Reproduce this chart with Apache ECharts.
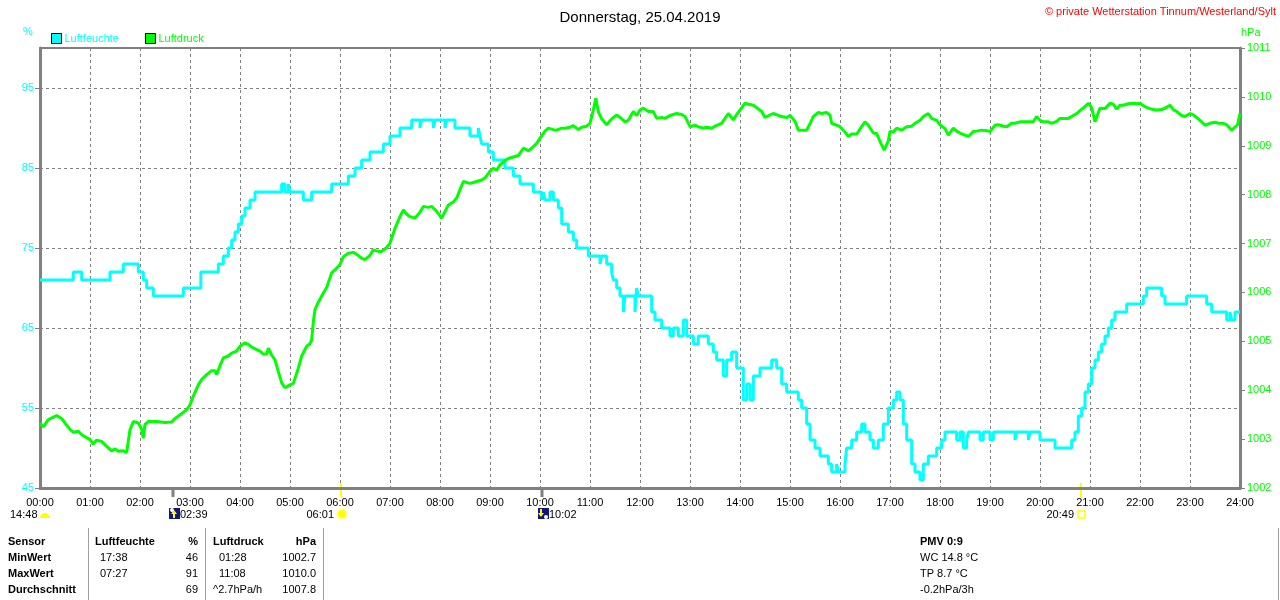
<!DOCTYPE html>
<html>
<head>
<meta charset="utf-8">
<script src="https://cdn.jsdelivr.net/npm/echarts@6/dist/echarts.min.js"></script>
<style>
  html, body { margin: 0; padding: 0; background: #fff; }
  #chart { width: 1280px; height: 600px; }
</style>
</head>
<body>
<div id="chart"></div>
<script>
// Luftfeuchte (%), Stufenwerte: Wert gilt ab Zeitpunkt
const humTimes = ['00:00','00:40','00:50','01:24','01:40','01:58','02:04','02:08','02:16','02:52','03:13','03:34','03:40','03:46','03:50','03:54','03:58','04:02','04:06','04:12','04:18','04:50','04:54','04:58','05:00','05:16','05:26','05:50','06:10','06:18','06:26','06:36','06:52','07:00','07:12','07:26','07:36','07:38','07:52','07:54','08:06','08:08','08:18','08:36','08:46','08:48','08:50','08:58','09:04','09:18','09:28','09:36','09:52','10:02','10:04','10:06','10:12','10:16','10:22','10:26','10:34','10:40','10:44','10:58','11:12','11:14','11:20','11:26','11:28','11:32','11:36','11:40','11:42','11:54','11:56','11:58','12:14','12:18','12:26','12:36','12:40','12:46','12:52','12:56','13:04','13:10','13:22','13:28','13:32','13:40','13:44','13:50','13:56','14:04','14:08','14:12','14:16','14:24','14:38','14:44','14:50','14:56','15:10','15:14','15:20','15:24','15:30','15:36','15:46','15:50','15:56','15:58','16:06','16:08','16:14','16:20','16:26','16:30','16:36','16:40','16:46','16:52','16:58','17:04','17:08','17:12','17:16','17:20','17:26','17:30','17:36','17:40','17:46','17:56','18:02','18:06','18:20','18:24','18:28','18:32','18:34','18:48','18:52','19:00','19:04','19:30','19:32','19:46','19:48','20:00','20:18','20:38','20:42','20:46','20:50','20:54','20:58','21:02','21:06','21:10','21:14','21:18','21:22','21:26','21:30','21:44','22:04','22:08','22:26','22:30','22:56','23:20','23:26','23:44','23:48','23:50','23:54','24:00'];
const humValues = [71,72,71,72,73,72,71,70,69,70,72,73,74,75,76,77,78,79,80,81,82,83,82,83,82,81,82,83,84,85,86,87,88,89,90,91,90,91,90,91,90,91,90,89,90,89,88,87,86,85,84,83,82,81,82,81,82,81,80,78,77,76,75,74,73,74,73,72,71,70,69,67,69,67,70,69,67,66,65,64,65,64,66,64,63,64,63,62,61,59,61,62,60,56,58,56,59,60,61,60,58,57,56,55,53,51,50,49,48,47,48,47,48,50,51,52,53,52,51,50,51,53,55,56,57,56,53,51,48,47,46,48,49,50,51,52,51,52,50,51,52,51,52,51,52,51,52,51,52,51,50,51,52,54,55,57,58,60,61,62,63,64,65,66,67,68,69,70,69,68,69,68,67,66,67,66,67,67];

// Luftdruck (hPa)
const presTimes = ['00:00','00:04','00:10','00:20','00:26','00:30','00:36','00:40','00:46','00:50','01:00','01:04','01:08','01:14','01:20','01:26','01:30','01:34','01:40','01:44','01:48','01:52','01:58','02:02','02:04','02:06','02:10','02:20','02:30','02:38','02:42','02:50','02:56','03:00','03:04','03:10','03:14','03:20','03:26','03:30','03:32','03:36','03:40','03:46','03:50','03:56','04:00','04:06','04:10','04:14','04:20','04:24','04:28','04:32','04:34','04:38','04:42','04:46','04:50','04:54','05:00','05:04','05:10','05:14','05:20','05:24','05:26','05:28','05:30','05:34','05:40','05:44','05:50','05:54','06:00','06:04','06:10','06:16','06:20','06:26','06:30','06:36','06:40','06:46','06:50','06:56','07:00','07:06','07:12','07:16','07:20','07:24','07:30','07:36','07:40','07:46','07:50','07:56','08:02','08:06','08:10','08:16','08:20','08:24','08:28','08:32','08:36','08:40','08:44','08:50','08:54','09:00','09:04','09:08','09:12','09:18','09:22','09:30','09:34','09:40','09:46','09:50','09:56','10:00','10:06','10:10','10:16','10:20','10:26','10:30','10:36','10:40','10:46','10:50','10:56','11:00','11:04','11:07','11:10','11:14','11:20','11:26','11:32','11:36','11:42','11:46','11:52','11:56','12:00','12:04','12:10','12:16','12:20','12:26','12:30','12:36','12:40','12:44','12:50','12:54','13:00','13:06','13:10','13:16','13:20','13:26','13:30','13:38','13:46','13:52','13:56','14:00','14:06','14:10','14:16','14:20','14:26','14:30','14:32','14:40','14:46','14:50','14:56','15:00','15:06','15:10','15:16','15:20','15:24','15:28','15:34','15:38','15:44','15:48','15:50','15:56','16:00','16:06','16:10','16:14','16:20','16:26','16:30','16:34','16:40','16:44','16:48','16:53','16:58','17:00','17:04','17:08','17:14','17:20','17:26','17:30','17:36','17:40','17:46','17:50','17:56','18:00','18:06','18:10','18:16','18:20','18:24','18:30','18:34','18:40','18:44','18:50','18:56','19:00','19:06','19:10','19:16','19:20','19:26','19:30','19:36','19:46','19:52','19:56','20:00','20:04','20:10','20:14','20:20','20:24','20:30','20:34','20:40','20:44','20:48','20:52','20:58','21:02','21:06','21:10','21:12','21:18','21:24','21:28','21:32','21:36','21:40','21:46','21:52','21:56','22:00','22:06','22:10','22:16','22:20','22:26','22:30','22:36','22:40','22:44','22:50','22:54','23:00','23:04','23:08','23:14','23:18','23:24','23:30','23:34','23:40','23:44','23:50','23:54','23:57','24:00'];
const presValues = [1003.33,1003.25,1003.40,1003.48,1003.42,1003.33,1003.20,1003.14,1003.16,1003.09,1002.99,1002.90,1002.98,1002.95,1002.85,1002.76,1002.80,1002.75,1002.76,1002.73,1003.19,1003.36,1003.33,1003.20,1003.02,1003.30,1003.36,1003.36,1003.34,1003.35,1003.42,1003.52,1003.60,1003.70,1003.88,1004.11,1004.22,1004.32,1004.40,1004.40,1004.32,1004.50,1004.66,1004.70,1004.76,1004.80,1004.90,1004.97,1004.94,1004.88,1004.83,1004.80,1004.74,1004.74,1004.86,1004.72,1004.62,1004.38,1004.15,1004.05,1004.11,1004.14,1004.45,1004.70,1004.90,1004.95,1005.03,1005.40,1005.65,1005.80,1005.99,1006.10,1006.40,1006.46,1006.57,1006.73,1006.80,1006.82,1006.78,1006.70,1006.67,1006.76,1006.87,1006.84,1006.84,1006.92,1007.01,1007.31,1007.55,1007.69,1007.60,1007.55,1007.52,1007.64,1007.76,1007.74,1007.76,1007.66,1007.52,1007.65,1007.79,1007.85,1007.93,1008.10,1008.27,1008.25,1008.23,1008.25,1008.27,1008.30,1008.34,1008.48,1008.54,1008.50,1008.61,1008.70,1008.74,1008.78,1008.80,1008.95,1008.90,1008.95,1009.05,1009.15,1009.30,1009.36,1009.33,1009.32,1009.36,1009.36,1009.38,1009.41,1009.33,1009.38,1009.40,1009.46,1009.73,1009.97,1009.70,1009.55,1009.43,1009.55,1009.63,1009.58,1009.49,1009.52,1009.70,1009.62,1009.73,1009.77,1009.70,1009.70,1009.56,1009.58,1009.56,1009.62,1009.64,1009.66,1009.64,1009.60,1009.39,1009.42,1009.39,1009.36,1009.38,1009.36,1009.40,1009.46,1009.66,1009.53,1009.64,1009.73,1009.87,1009.85,1009.83,1009.78,1009.70,1009.58,1009.60,1009.66,1009.62,1009.60,1009.58,1009.62,1009.50,1009.32,1009.32,1009.32,1009.45,1009.60,1009.68,1009.66,1009.68,1009.63,1009.46,1009.42,1009.39,1009.28,1009.19,1009.24,1009.24,1009.39,1009.49,1009.42,1009.26,1009.25,1009.09,1008.91,1009.10,1009.29,1009.28,1009.36,1009.32,1009.39,1009.40,1009.46,1009.52,1009.60,1009.66,1009.56,1009.52,1009.43,1009.35,1009.22,1009.36,1009.30,1009.26,1009.22,1009.19,1009.29,1009.30,1009.32,1009.31,1009.29,1009.42,1009.43,1009.40,1009.39,1009.46,1009.46,1009.49,1009.49,1009.49,1009.60,1009.52,1009.49,1009.49,1009.46,1009.50,1009.56,1009.56,1009.56,1009.62,1009.66,1009.72,1009.77,1009.87,1009.78,1009.49,1009.68,1009.77,1009.76,1009.87,1009.85,1009.75,1009.83,1009.83,1009.86,1009.87,1009.86,1009.87,1009.80,1009.77,1009.74,1009.73,1009.74,1009.77,1009.83,1009.74,1009.70,1009.62,1009.60,1009.66,1009.63,1009.58,1009.49,1009.42,1009.46,1009.48,1009.46,1009.46,1009.43,1009.32,1009.38,1009.43,1009.66];

// Sonne / Mond Ereignisse
const eventTimes = ['02:39','06:01','10:02','20:49'];
const eventKinds = ['moonrise','sunrise','moonset','sunset'];

// Tabelle unten
const tableHead = ['Sensor','Luftfeuchte','%','Luftdruck','hPa'];
const rowNames = ['MinWert','MaxWert','Durchschnitt'];
const humStatTimes = ['17:38','07:27',''];
const humStat = ['46','91','69'];
const presStatTimes = [' 01:28',' 11:08','^2.7hPa/h'];
const presStat = ['1002.7','1010.0','1007.8'];
const extraLines = ['PMV 0:9','WC 14.8 °C','TP 8.7 °C','-0.2hPa/3h'];

const FONT = '"Liberation Sans", Arial, sans-serif';
const toMin = s => { const p = s.split(':'); return (+p[0]) * 60 + (+p[1]); };
const pad = n => (n < 10 ? '0' : '') + n;

let chart = echarts.init(document.getElementById('chart'));

let option = {
    animation: false,
    backgroundColor: '#fff',
    textStyle: { fontFamily: FONT },
    title: {
        text: 'Donnerstag, 25.04.2019',
        left: 'center',
        top: 5,
        textStyle: { fontSize: 15, fontWeight: 'normal', color: '#000', fontFamily: FONT }
    },
    legend: {
        left: 46,
        top: 28,
        itemWidth: 10,
        itemHeight: 10,
        itemGap: 26,
        icon: 'rect',
        itemStyle: { borderColor: '#000', borderWidth: 1 },
        textStyle: { fontSize: 11, fontFamily: FONT, padding: [0, 0, 0, -2] },
        data: [
            { name: 'Luftfeuchte', textStyle: { color: '#00ffff' } },
            { name: 'Luftdruck', textStyle: { color: '#00ff00' } }
        ]
    },
    grid: {
        left: 40, right: 40, top: 48, bottom: 112,
        show: true, borderColor: '#808080', borderWidth: 2
    },
    xAxis: {
        type: 'value',
        min: 0, max: 1440, interval: 60,
        axisLine: { lineStyle: { color: '#808080', width: 3 } },
        axisTick: { show: false },
        axisLabel: {
            color: '#000', fontSize: 11, margin: 9, fontFamily: FONT,
            formatter: v => pad(Math.floor(v / 60)) + ':' + pad(v % 60)
        },
        splitLine: { show: true, lineStyle: { color: '#808080', type: [3, 3], width: 1 } }
    },
    yAxis: [
        {
            type: 'value',
            min: 45, max: 100, interval: 10,
            axisLine: { show: true, lineStyle: { color: '#808080', width: 3 } },
            axisTick: { show: true, length: 5, lineStyle: { color: '#808080' } },
            axisLabel: { color: '#00ffff', fontSize: 11, margin: 6, showMaxLabel: false, fontFamily: FONT,
                formatter: v => String(v) },
            splitLine: { show: true, lineStyle: { color: '#808080', type: [3, 3], width: 1 } }
        },
        {
            type: 'value',
            min: 1002, max: 1011, interval: 1,
            position: 'right',
            axisLine: { show: true, lineStyle: { color: '#808080', width: 3 } },
            axisTick: { show: true, length: 5, lineStyle: { color: '#808080' } },
            axisLabel: { color: '#00ff00', fontSize: 11, margin: 7, fontFamily: FONT,
                formatter: v => String(v) },
            splitLine: { show: false }
        }
    ],
    series: [
        {
            name: 'Luftfeuchte',
            type: 'line',
            yAxisIndex: 0,
            step: 'end',
            showSymbol: false,
            color: '#00ffff',
            lineStyle: { width: 3, color: '#00ffff' },
            data: humTimes.map((t, i) => [toMin(t), humValues[i]])
        },
        {
            name: 'Luftdruck',
            type: 'line',
            yAxisIndex: 1,
            showSymbol: false,
            color: '#00ff00',
            lineStyle: { width: 3, color: '#00ff00' },
            data: presTimes.map((t, i) => [toMin(t), presValues[i]])
        }
    ]
};

chart.setOption(option);

// Texte, Marker und Tabelle
let g = [];
const txt = (x, y, s, o) => g.push(Object.assign({
    type: 'text', x: x, y: y,
    style: Object.assign({ text: s, fill: '#000', font: '11px ' + FONT, textVerticalAlign: 'middle' }, o || {})
}));

txt(1276, 12, '© private Wetterstation Tinnum/Westerland/Sylt', { fill: '#ff0000', textAlign: 'right' });
txt(23, 32, '%', { fill: '#00ffff' });
txt(1241, 33, 'hPa', { fill: '#00ff00' });

// Mondphase links
txt(10, 515, '14:48');
g.push({ type: 'sector', shape: { cx: 45, cy: 518, r: 5, r0: 0, startAngle: Math.PI, endAngle: 2 * Math.PI }, style: { fill: '#ffff00' } });

const axisY = chart.convertToPixel({ gridIndex: 0 }, [0, 45])[1];
eventTimes.forEach((t, i) => {
    const x = Math.round(chart.convertToPixel({ gridIndex: 0 }, [toMin(t), 45])[0]);
    const kind = eventKinds[i];
    const isSun = kind === 'sunrise' || kind === 'sunset';
    g.push({ type: 'line', shape: { x1: x, y1: isSun ? axisY - 5 : axisY, x2: x, y2: axisY + 9 },
        style: { stroke: isSun ? '#ffff00' : '#808080', lineWidth: isSun ? 2 : 3 } });
    if (kind === 'moonrise' || kind === 'moonset') {
        g.push({ type: 'rect', shape: { x: x - 4, y: 508, width: 11, height: 11 }, style: { fill: '#14147a' } });
        const up = kind === 'moonrise';
        g.push({ type: 'circle', shape: { cx: up ? x - 1 : x + 4, cy: up ? 510 : 517, r: 2 }, style: { fill: '#ffffff' } });
        const ax = up ? x + 1 : x - 1;
        const pts = up
            ? [[ax, 510], [ax + 3, 514], [ax + 1, 514], [ax + 1, 518], [ax - 1, 518], [ax - 1, 514], [ax - 3, 514]]
            : [[ax, 517], [ax + 3, 513], [ax + 1, 513], [ax + 1, 509], [ax - 1, 509], [ax - 1, 513], [ax - 3, 513]];
        g.push({ type: 'polygon', shape: { points: pts }, style: { fill: '#ffff00' } });
        txt(x + 7, 515, t);
    } else if (kind === 'sunrise') {
        g.push({ type: 'circle', shape: { cx: x + 1, cy: 514, r: 6 }, style: { fill: '#ffffb0' } });
        g.push({ type: 'circle', shape: { cx: x + 1, cy: 514, r: 4 }, style: { fill: '#ffff00' } });
        txt(x - 7, 515, t, { textAlign: 'right' });
    } else {
        g.push({ type: 'rect', shape: { x: x - 3, y: 511, width: 7, height: 7 }, style: { fill: 'none', stroke: '#ffff00', lineWidth: 1.5 } });
        txt(x - 7, 515, t, { textAlign: 'right' });
    }
});

// Tabelle
const rowY = [542, 558, 574, 590];
const bold = { font: 'bold 11px ' + FONT };
txt(8, rowY[0], tableHead[0], bold);
txt(95, rowY[0], tableHead[1], bold);
txt(198, rowY[0], tableHead[2], Object.assign({ textAlign: 'right' }, bold));
txt(213, rowY[0], tableHead[3], bold);
txt(316, rowY[0], tableHead[4], Object.assign({ textAlign: 'right' }, bold));
rowNames.forEach((n, i) => {
    const y = rowY[i + 1];
    txt(8, y, n, bold);
    txt(100, y, humStatTimes[i]);
    txt(198, y, humStat[i], { textAlign: 'right' });
    txt(presStatTimes[i].charAt(0) === ' ' ? 219 : 213, y, presStatTimes[i].trim());
    txt(316, y, presStat[i], { textAlign: 'right' });
});
extraLines.forEach((s, i) => txt(920, rowY[i], s, i === 0 ? bold : {}));
[88, 205, 323, 1278].forEach(x => g.push({
    type: 'line', shape: { x1: x + 0.5, y1: 528, x2: x + 0.5, y2: 600 }, style: { stroke: '#a0a0a0', lineWidth: 1 }
}));

chart.setOption({ graphic: g });
</script>
</body>
</html>
